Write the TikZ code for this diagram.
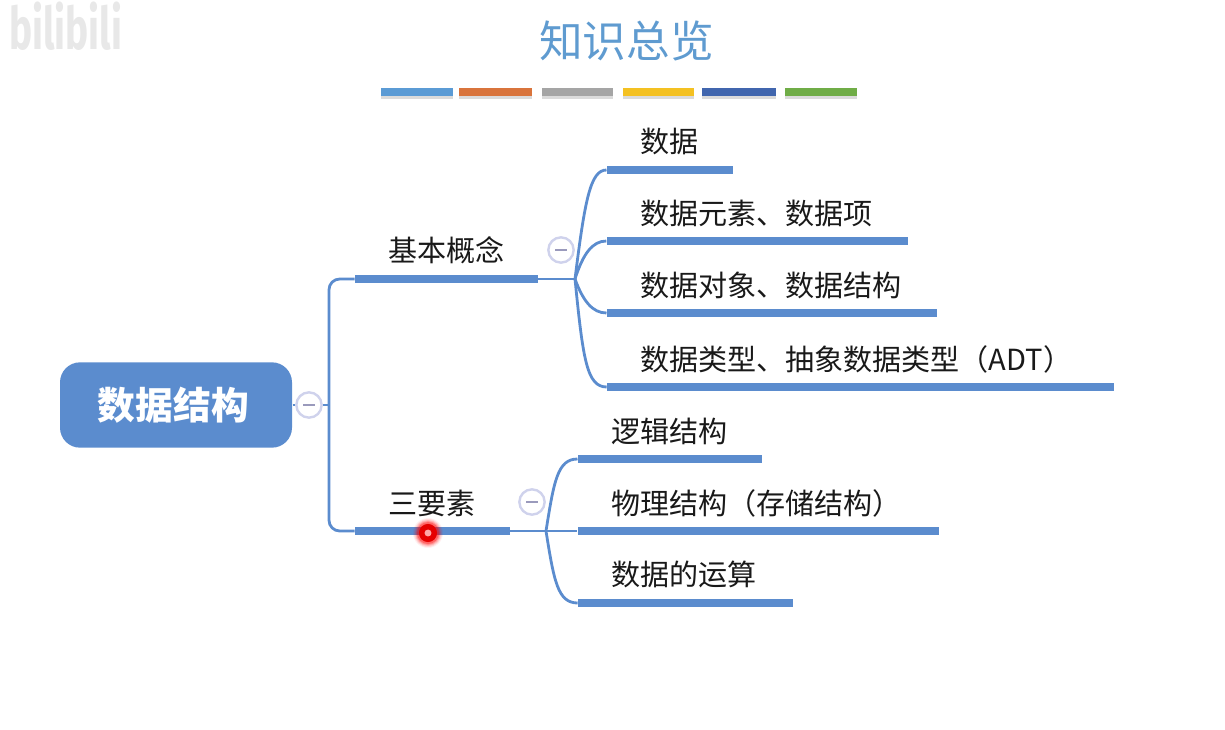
\documentclass[tikz,border=0pt]{standalone}
\usepackage{fontspec}
\setmainfont{Noto Sans CJK SC}
\newfontfamily\logofont{Fira Sans}
\definecolor{topicblue}{HTML}{5B8CCE}
\definecolor{titleblue}{HTML}{5F9BD0}
\definecolor{foldring}{HTML}{CFD2EC}
\definecolor{foldbar}{HTML}{9A9ABC}
\tikzset{every picture/.style={line width=0.75pt}}
\tikzset{
  link/.style={draw=topicblue,line width=2.1pt},
  topicbar/.style={rectangle,fill=topicblue,inner sep=0pt,minimum height=6pt},
  topiclabel/.style={anchor=west,inner sep=0pt,font=\fontsize{21.8}{24}\selectfont,text=black!90},
  foldmark/.style={circle,draw=foldring,fill=white,line width=1.8pt,inner sep=0pt,minimum size=19pt,
    path picture={\draw [foldbar,line width=1.4pt] ([xshift=-4.5pt]path picture bounding box.center) -- ([xshift=4.5pt]path picture bounding box.center);}},
  swatch/.style={rectangle,inner sep=0pt,minimum height=6pt},
}

\begin{document}
\begin{tikzpicture}[x=0.75pt,y=0.75pt,yscale=-1,xscale=1]
\useasboundingbox (0,0) rectangle (1225,729);

% Logo in the corner
\node [anchor=center,inner sep=0pt,text=black!9,font=\logofont\bfseries\fontsize{44}{44}\selectfont,xscale=0.66] (logo) at (65.5,26) {bilibili};

% Title
\node [inner sep=0pt,text=titleblue,font=\fontsize{32.7}{36}\selectfont] (title) at (626.5,41) {知识总览};

% Colour strip
\foreach \xa/\xb/\col/\nm in {381/453/5B9BD5/a,459/532/D9743C/b,542/613/A5A5A5/c,623/694/F4C122/d,702/776/4166AE/e,785/857/70AD47/f}{
  \fill [black!14] (\xa,91) rectangle (\xb,98.5);
  \definecolor{swatchcol}{HTML}{\col}
  \node [swatch,fill=swatchcol,minimum width={(\xb-\xa)*0.75pt}] (strip\nm) at ({(\xa+\xb)/2},92) {};
}

% Root
\node [rectangle,rounded corners=15pt,fill=topicblue,minimum width=174pt,minimum height=64pt,inner sep=0pt,text=white,font=\bfseries\fontsize{28.3}{30}\selectfont] (root) at (176,405) {\hspace*{-4pt}数据结构};
\node [foldmark] (rootfold) at (309,405) {};
\coordinate (trunk) at (329,405);

% Bars of the main topics
\node [topicbar,minimum width=137pt] (basic) at (446.5,279) {};
\node [topicbar,minimum width=116pt] (three) at (432.5,531) {};

% Bars of the sub topics
\node [topicbar,minimum width=94.5pt] (data) at (670,170) {};
\node [topicbar,minimum width=226pt] (element) at (757.5,241) {};
\node [topicbar,minimum width=247.5pt] (object) at (772,313) {};
\node [topicbar,minimum width=380pt] (adt) at (860.5,387) {};
\node [topicbar,minimum width=138pt] (logic) at (670,459) {};
\node [topicbar,minimum width=271pt] (storage) at (758.5,531) {};
\node [topicbar,minimum width=161pt] (oper) at (685.5,603) {};

% Fold marks
\node [foldmark] (basicfold) at (561,250) {};
\node [foldmark] (threefold) at (532,502) {};

% Fork points
\coordinate (basicfork) at (575,279);
\coordinate (threefork) at (546,531);

% Connectors
\draw [link] (root.east) -- (rootfold);
\draw [link] (rootfold) -- (trunk);
\draw [link,rounded corners=8pt] (basic.west) -| (trunk) |- (three.west);
\draw [link] (basic.east) -- (basicfork);
\draw [link] (three.east) -- (threefork);

\draw [link] (basicfork) .. controls +(10,-80) and +(-16,0) .. (data.west);
\draw [link] (basicfork) .. controls +(8,-25) and +(-14,0) .. (element.west);
\draw [link] (basicfork) .. controls +(8,22) and +(-14,0) .. (object.west);
\draw [link] (basicfork) .. controls +(8,80) and +(-20,0) .. (adt.west);

\draw [link] (threefork) .. controls +(8,-50) and +(-20,0) .. (logic.west);
\draw [link] (threefork) -- (storage.west);
\draw [link] (threefork) .. controls +(8,50) and +(-20,0) .. (oper.west);

% Text Node
\node [topiclabel] (basictext) at (387.5,250) {基本概念};
\node [topiclabel] (threetext) at (387.5,503) {三要素};
\node [topiclabel] (datatext) at (639.5,141.5) {数据};
\node [topiclabel] (elementtext) at (639.5,213) {数据元素、数据项};
\node [topiclabel] (objecttext) at (639.5,285) {数据对象、数据结构};
\node [topiclabel] (adttext) at (639.5,359) {数据类型、抽象数据类型（ADT）};
\node [topiclabel] (logictext) at (610.5,431) {逻辑结构};
\node [topiclabel] (storagetext) at (610.5,503) {物理结构（存储结构）};
\node [topiclabel] (opertext) at (610.5,574) {数据的运算};

% Pointer dot
\foreach \r/\op in {15/0.06,14/0.1,13/0.15,12/0.2,11/0.3}{
  \fill [red,opacity=\op] (428,533) circle [radius=\r*0.75pt];
}
\fill [red!90!black] (428,533) circle [radius=6.8pt];
\fill [white!65!red] (428,533) circle [radius=2.6pt];
\end{tikzpicture}
\end{document}
